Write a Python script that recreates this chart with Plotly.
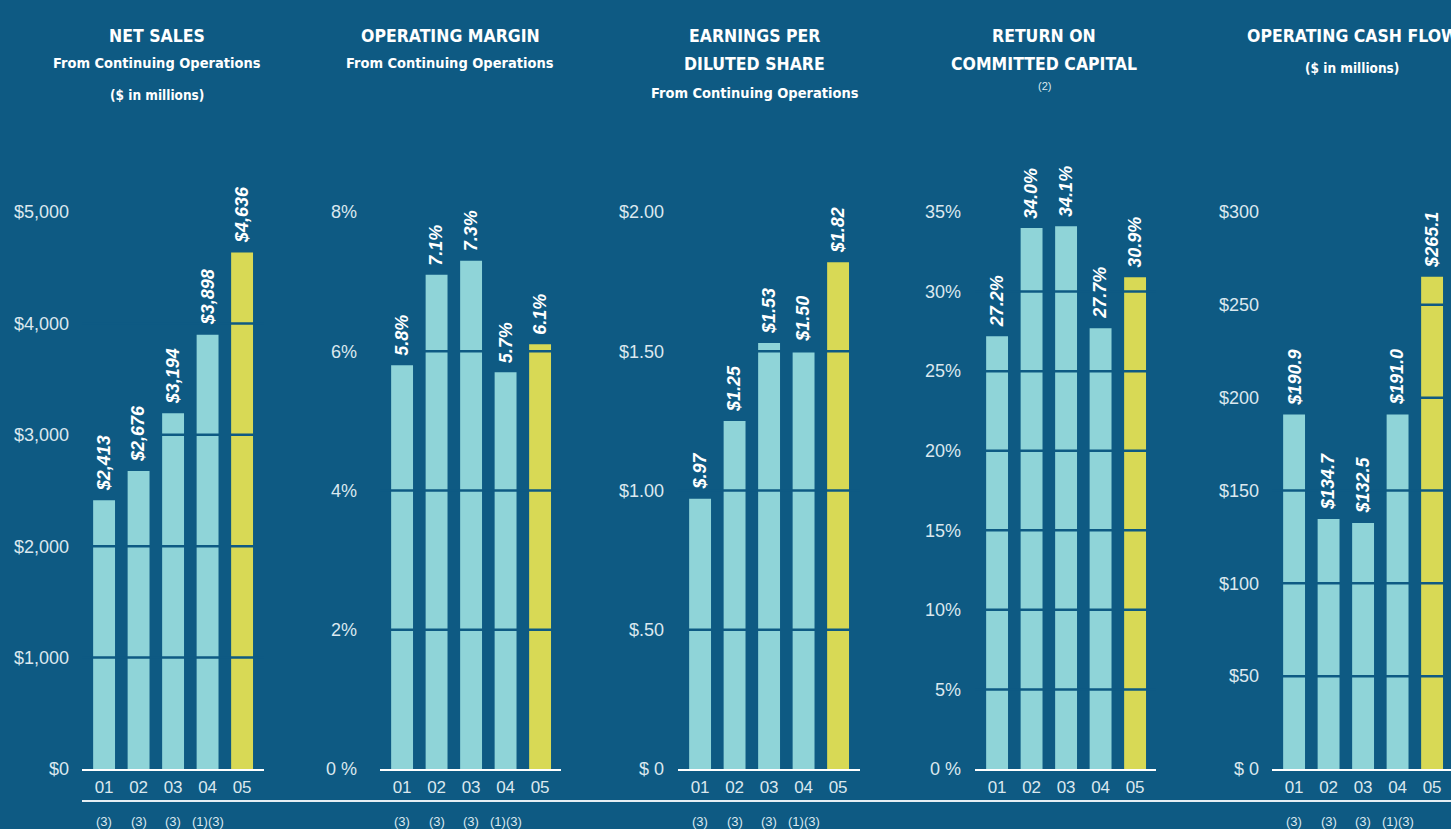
import plotly.graph_objects as go

W, H = 1451, 829
BG = "#0e5a83"
TEAL = "#8fd4d8"
YELLOW = "#d8d955"
TXT = "#dbe8ef"

years = ["01", "02", "03", "04", "05"]

net_sales = [2413, 2676, 3194, 3898, 4636]
net_sales_labels = ["$2,413", "$2,676", "$3,194", "$3,898", "$4,636"]
net_sales_ticks = [0, 1000, 2000, 3000, 4000, 5000]
net_sales_ticktext = ["$0", "$1,000", "$2,000", "$3,000", "$4,000", "$5,000"]

op_margin = [5.8, 7.1, 7.3, 5.7, 6.1]
op_margin_labels = ["5.8%", "7.1%", "7.3%", "5.7%", "6.1%"]
op_margin_ticks = [0, 2, 4, 6, 8]
op_margin_ticktext = ["0 %", "2%", "4%", "6%", "8%"]

eps = [0.97, 1.25, 1.53, 1.50, 1.82]
eps_labels = ["$.97", "$1.25", "$1.53", "$1.50", "$1.82"]
eps_ticks = [0, 0.5, 1.0, 1.5, 2.0]
eps_ticktext = ["$ 0", "$.50", "$1.00", "$1.50", "$2.00"]

rocc = [27.2, 34.0, 34.1, 27.7, 30.9]
rocc_labels = ["27.2%", "34.0%", "34.1%", "27.7%", "30.9%"]
rocc_ticks = [0, 5, 10, 15, 20, 25, 30, 35]
rocc_ticktext = ["0 %", "5%", "10%", "15%", "20%", "25%", "30%", "35%"]

ocf = [190.9, 134.7, 132.5, 191.0, 265.1]
ocf_labels = ["$190.9", "$134.7", "$132.5", "$191.0", "$265.1"]
ocf_ticks = [0, 50, 100, 150, 200, 250, 300]
ocf_ticktext = ["$ 0", "$50", "$100", "$150", "$200", "$250", "$300"]

footnotes = ["(3)", "(3)", "(3)", "(1)(3)", ""]

T1, T2, T3 = 17.5, 14.5, 13.5
panels = [
    dict(vals=net_sales, labels=net_sales_labels, ticks=net_sales_ticks, ticktext=net_sales_ticktext,
         xpx=(82, 264), standoff=12, notes=True,
         titles=[("NET SALES", 36, T1, True), ("From Continuing Operations", 63, T2, True),
                 ("($ in millions)", 95, T3, True)], tx=157),
    dict(vals=op_margin, labels=op_margin_labels, ticks=op_margin_ticks, ticktext=op_margin_ticktext,
         xpx=(380, 561), standoff=22, notes=True,
         titles=[("OPERATING MARGIN", 36, T1, True), ("From Continuing Operations", 63, T2, True)], tx=450),
    dict(vals=eps, labels=eps_labels, ticks=eps_ticks, ticktext=eps_ticktext,
         xpx=(678, 860), standoff=13, notes=True,
         titles=[("EARNINGS PER", 36, T1, True), ("DILUTED SHARE", 64, T1, True),
                 ("From Continuing Operations", 93, T2, True)], tx=755),
    dict(vals=rocc, labels=rocc_labels, ticks=rocc_ticks, ticktext=rocc_ticktext,
         xpx=(975, 1156), standoff=13, notes=False,
         titles=[("RETURN ON", 36, T1, True), ("COMMITTED CAPITAL", 64, T1, True),
                 ("(2)", 86, 11, False)], tx=1044),
    dict(vals=ocf, labels=ocf_labels, ticks=ocf_ticks, ticktext=ocf_ticktext,
         xpx=(1272, 1451), standoff=12, notes=True,
         titles=[("OPERATING CASH FLOW", 36, T1, True), ("($ in millions)", 68, T3, True)], tx=1352),
]

PITCH = 34.5
YTOP, YBOT = 212, 769
ydom = [(H - YBOT) / H, (H - YTOP) / H]

TITLE_FONT = "Liberation Sans Narrow, DejaVu Sans Condensed, Arial Narrow, sans-serif"
BODY_FONT = "Liberation Sans, Arial, Helvetica, sans-serif"

fig = go.Figure()
annotations = []
shapes = []
colors = [TEAL, TEAL, TEAL, TEAL, YELLOW]

for i, p in enumerate(panels):
    n = i + 1
    xa = "x" if n == 1 else f"x{n}"
    ya = "y" if n == 1 else f"y{n}"
    x0, x1 = p["xpx"]
    left = -0.64
    right = left + (x1 - x0) / PITCH
    fig.add_trace(go.Bar(x=years, y=p["vals"], xaxis=xa, yaxis=ya, width=0.635,
                         marker=dict(color=colors, line=dict(width=0)), showlegend=False,
                         hoverinfo="x+y"))
    fig.update_layout(**{
        ("xaxis" if n == 1 else f"xaxis{n}"): dict(
            domain=[x0 / W, x1 / W], anchor=ya, range=[left, right], type="category",
            showline=True, linecolor="#ffffff", linewidth=2, showgrid=False, zeroline=False,
            ticks="", tickfont=dict(family=BODY_FONT, size=17, color=TXT), ticklabelstandoff=2,
            automargin=False, fixedrange=True),
        ("yaxis" if n == 1 else f"yaxis{n}"): dict(
            domain=ydom, anchor=xa, range=[0, p["ticks"][-1]], showline=False, showgrid=False,
            zeroline=False, tickmode="array", tickvals=p["ticks"], ticktext=p["ticktext"],
            ticks="", ticklabelstandoff=p["standoff"], automargin=False,
            tickfont=dict(family=BODY_FONT, size=18, color=TXT), fixedrange=True),
    })
    # horizontal separators across bars
    inner = [t for t in p["ticks"] if 0 < t < max(p["vals"])]
    for t in inner:
        shapes.append(dict(type="line", xref=f"{xa} domain", yref=ya, x0=0, x1=1, y0=t, y1=t,
                           line=dict(color=BG, width=2.5), layer="above"))
    # value labels (category index positions)
    for k, (v, lab) in enumerate(zip(p["vals"], p["labels"])):
        annotations.append(dict(x=k, y=v, xref=xa, yref=ya, text=f"<b><i>{lab}</i></b>",
                                showarrow=False, textangle=-90, xanchor="center", yanchor="bottom",
                                yshift=7, font=dict(family=BODY_FONT, size=18, color="#ffffff")))
    # footnotes
    if p["notes"]:
        for k, fn in enumerate(footnotes):
            if fn:
                annotations.append(dict(x=k, y=(H - 821) / H, xref=xa, yref="paper", text=fn,
                                        showarrow=False, xanchor="center", yanchor="middle",
                                        font=dict(family=BODY_FONT, size=13, color=TXT)))
    # titles
    for text, ypx, size, bold in p["titles"]:
        annotations.append(dict(x=p["tx"] / W, y=(H - ypx) / H, xref="paper", yref="paper",
                                text=f"<b>{text}</b>" if bold else text, showarrow=False,
                                xanchor="center", yanchor="middle",
                                font=dict(family=TITLE_FONT if bold else BODY_FONT, size=size,
                                          color="#ffffff" if bold else TXT)))

# bottom separator line
shapes.append(dict(type="line", xref="paper", yref="paper", x0=82 / W, x1=1,
                   y0=(H - 801) / H, y1=(H - 801) / H, line=dict(color="#e6eef3", width=2)))

fig.update_layout(width=W, height=H, margin=dict(l=0, r=0, t=0, b=0, pad=0, autoexpand=False),
                  paper_bgcolor=BG, plot_bgcolor=BG, bargap=0.3,
                  annotations=annotations, shapes=shapes, showlegend=False)

fig.write_html("out.html", config={"displayModeBar": False},
               post_script="document.body.style.margin='0';document.body.style.overflow='hidden';"
                           "document.documentElement.style.overflow='hidden';")
